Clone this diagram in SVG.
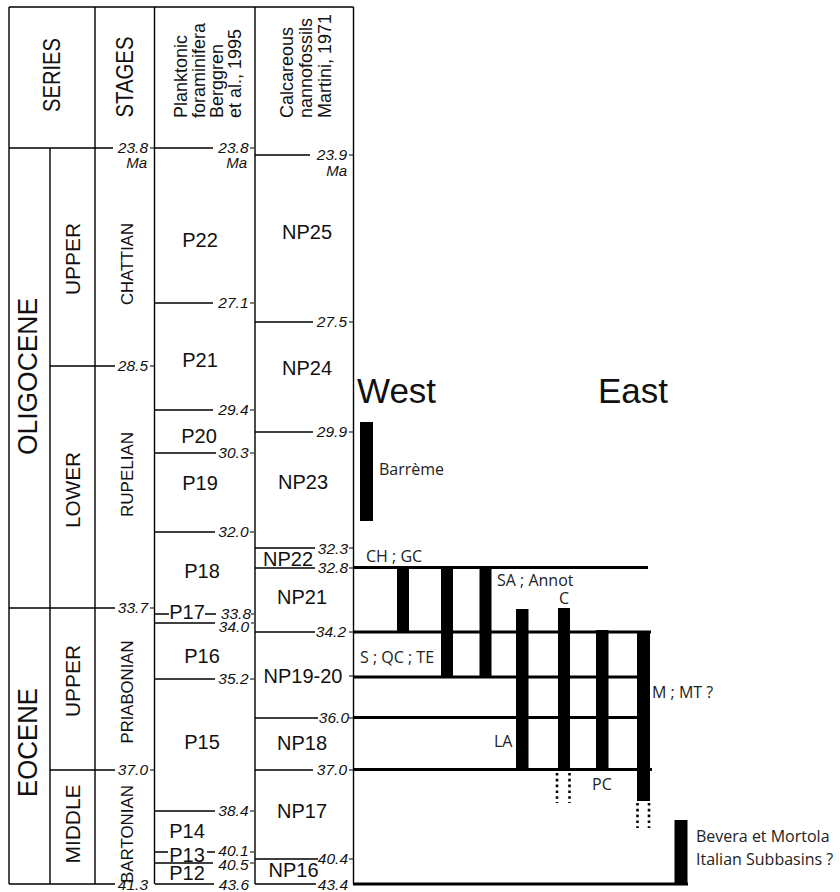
<svg xmlns="http://www.w3.org/2000/svg" width="840" height="892" viewBox="0 0 840 892">
<style>
.ln{stroke:#000;stroke-width:1.4;fill:none}
.tk{stroke:#000;stroke-width:1.2;fill:none}
.th{stroke:#000;stroke-width:3;fill:none}
.dt{stroke:#000;stroke-width:2.6;stroke-dasharray:2.6 3.2;fill:none}
.bar{fill:#000}
text{font-family:"Liberation Sans",Arial,Helvetica,sans-serif;fill:#111}
.hd{font-size:23px;text-anchor:middle}
.hs{font-size:18px}
.big{font-size:27px;text-anchor:middle}
.sub{font-size:21px;text-anchor:middle}
.stg{font-size:17px;text-anchor:middle}
.zn{font-size:20px;text-anchor:middle}
.num{font-size:15.5px;font-style:italic;text-anchor:end}
.ma{font-size:15px;font-style:italic;text-anchor:end}
.ttl{font-size:35px}
.lb{font-family:"Open Sans","Noto Sans",sans-serif;font-size:16px;fill:#222}
</style>

<g id="frame">
  <path class="ln" d="M9 7H353.5 M9 7V884 M95 7V884 M154.5 7V884 M255 7V884 M353.5 7V884 M50 148V884"/>
</g>

<g id="header">
  <text class="hd" transform="translate(60,75) rotate(-90)" textLength="74" lengthAdjust="spacingAndGlyphs">SERIES</text>
  <text class="hd" transform="translate(133,77) rotate(-90)" textLength="81" lengthAdjust="spacingAndGlyphs">STAGES</text>
  <text class="hs" transform="translate(187,118) rotate(-90)">Planktonic</text>
  <text class="hs" transform="translate(205,118) rotate(-90)">foraminifera</text>
  <text class="hs" transform="translate(223,118) rotate(-90)">Berggren</text>
  <text class="hs" transform="translate(241,118) rotate(-90)">et al., 1995</text>
  <text class="hs" transform="translate(293,118) rotate(-90)">Calcareous</text>
  <text class="hs" transform="translate(312,118) rotate(-90)">nannofossils</text>
  <text class="hs" transform="translate(331,118) rotate(-90)">Martini, 1971</text>
</g>

<g id="series">
  <text class="big" transform="translate(37,376.5) rotate(-90)" textLength="157" lengthAdjust="spacingAndGlyphs">OLIGOCENE</text>
  <text class="big" transform="translate(37,742.5) rotate(-90)" textLength="109" lengthAdjust="spacingAndGlyphs">EOCENE</text>
  <text class="sub" transform="translate(80,259) rotate(-90)" textLength="72" lengthAdjust="spacingAndGlyphs">UPPER</text>
  <text class="sub" transform="translate(80,490) rotate(-90)" textLength="76" lengthAdjust="spacingAndGlyphs">LOWER</text>
  <text class="sub" transform="translate(80,681) rotate(-90)" textLength="72" lengthAdjust="spacingAndGlyphs">UPPER</text>
  <text class="sub" transform="translate(80,824) rotate(-90)" textLength="79" lengthAdjust="spacingAndGlyphs">MIDDLE</text>
</g>

<g id="stages">
  <text class="stg" transform="translate(133,264) rotate(-90)" textLength="82" lengthAdjust="spacingAndGlyphs">CHATTIAN</text>
  <text class="stg" transform="translate(133,474.5) rotate(-90)" textLength="85" lengthAdjust="spacingAndGlyphs">RUPELIAN</text>
  <text class="stg" transform="translate(133,692) rotate(-90)" textLength="103" lengthAdjust="spacingAndGlyphs">PRIABONIAN</text>
  <text class="stg" transform="translate(133,834) rotate(-90)" textLength="98" lengthAdjust="spacingAndGlyphs">BARTONIAN</text>
  <path class="ln" d="M9 148H113 M50 366H115 M9 608H115 M50 770H115 M9 884H115"/>
  <path class="tk" d="M150 148H154 M150 366H154 M150 608H154 M150 770H154"/>
  <text class="num" x="148" y="153">23.8</text>
  <text class="ma" x="147" y="168">Ma</text>
  <text class="num" x="148" y="371">28.5</text>
  <text class="num" x="148" y="613">33.7</text>
  <text class="num" x="148" y="775">37.0</text>
  <text class="num" x="148" y="890">41.3</text>
</g>

<g id="planktonic">
  <path class="ln" d="M155 148H213 M155 303H213 M155 410H213 M155 453H216 M155 532H215 M155 614H169 M205 614H216 M155 623H215 M155 679H215 M155 811H215 M155 852H168 M207 852H215 M155 863H213 M155 884H214"/>
  <path class="tk" d="M250 148H254 M250 303H254 M250 410H254 M250 453H254 M250 532H254 M251 614H254 M251 623H254 M250 679H254 M250 811H254 M250 852H254 M250 863H254"/>
  <text class="num" x="248.5" y="153">23.8</text>
  <text class="ma" x="247" y="168">Ma</text>
  <text class="num" x="248.5" y="308">27.1</text>
  <text class="num" x="248.5" y="415">29.4</text>
  <text class="num" x="248.5" y="458">30.3</text>
  <text class="num" x="248.5" y="537">32.0</text>
  <text class="num" x="251" y="619">33.8</text>
  <text class="num" x="249" y="632">34.0</text>
  <text class="num" x="248.5" y="684">35.2</text>
  <text class="num" x="248.5" y="816">38.4</text>
  <text class="num" x="248.5" y="856">40.1</text>
  <text class="num" x="248.5" y="870">40.5</text>
  <text class="num" x="249" y="890">43.6</text>
  <text class="zn" x="200" y="247">P22</text>
  <text class="zn" x="200" y="367">P21</text>
  <text class="zn" x="199" y="443">P20</text>
  <text class="zn" x="200" y="490">P19</text>
  <text class="zn" x="202" y="578">P18</text>
  <text class="zn" x="187" y="619">P17</text>
  <text class="zn" x="202" y="663">P16</text>
  <text class="zn" x="202" y="749">P15</text>
  <text class="zn" x="187" y="838">P14</text>
  <text class="zn" x="187" y="862">P13</text>
  <text class="zn" x="187" y="880">P12</text>
</g>

<g id="nannofossils">
  <path class="ln" d="M255 155H310 M255 322H313 M255 432H313 M255 548H315 M255 568H315 M255 632H315 M255 718H318 M255 770H313 M255 859H318 M255 884H316"/>
  <path class="tk" d="M349 155H353 M349 322H353 M349 432H353 M349 548H353 M349 568H353 M349 632H353 M349 676H353 M349 718H353 M349 770H353 M349 859H353"/>
  <text class="num" x="347" y="160">23.9</text>
  <text class="ma" x="347" y="176">Ma</text>
  <text class="num" x="347" y="327">27.5</text>
  <text class="num" x="347" y="437">29.9</text>
  <text class="num" x="348" y="554">32.3</text>
  <text class="num" x="348" y="573">32.8</text>
  <text class="num" x="346" y="637">34.2</text>
  <text class="num" x="349" y="723">36.0</text>
  <text class="num" x="347" y="775">37.0</text>
  <text class="num" x="348" y="864">40.4</text>
  <text class="num" x="348" y="890">43.4</text>
  <text class="zn" x="307" y="239">NP25</text>
  <text class="zn" x="307" y="375">NP24</text>
  <text class="zn" x="303" y="489">NP23</text>
  <text class="zn" x="288" y="566">NP22</text>
  <text class="zn" x="302" y="604">NP21</text>
  <text class="zn" x="303" y="683">NP19-20</text>
  <text class="zn" x="302" y="750">NP18</text>
  <text class="zn" x="302" y="818">NP17</text>
  <text class="zn" x="293.5" y="877">NP16</text>
</g>

<g id="connectors">
  <path class="th" d="M353 567.5H648 M353 632H651 M353 677H650 M353 717.5H650 M353 769.5H652 M353 884H688"/>
  <path class="dt" d="M557 773V803 M569.5 773V803 M637.5 803V828 M649 803V828"/>
</g>

<g id="sections">
  <text class="ttl" x="357" y="403">West</text>
  <text class="ttl" x="598" y="403">East</text>
  <g id="barreme"><rect class="bar" x="360" y="422" width="13" height="99"/><text class="lb" x="379" y="475">Barrème</text></g>
  <g id="ch-gc"><rect class="bar" x="397" y="567" width="12" height="65"/><text class="lb" x="366" y="562">CH ; GC</text></g>
  <g id="s-qc-te"><rect class="bar" x="441" y="567" width="12" height="110"/><text class="lb" x="360" y="663">S ; QC ; TE</text></g>
  <g id="sa-annot"><rect class="bar" x="479.5" y="567" width="12" height="110"/><text class="lb" x="497" y="586">SA ; Annot</text></g>
  <g id="la"><rect class="bar" x="516" y="609" width="12.5" height="160"/><text class="lb" x="494" y="747">LA</text></g>
  <g id="c"><rect class="bar" x="558" y="608" width="12" height="161"/><text class="lb" x="559" y="604">C</text></g>
  <g id="pc"><rect class="bar" x="596" y="630" width="12.5" height="139"/><text class="lb" x="592" y="790">PC</text></g>
  <g id="m-mt"><rect class="bar" x="637" y="632" width="13" height="169"/><text class="lb" x="652" y="698">M ; MT ?</text></g>
  <g id="bevera"><rect class="bar" x="674.5" y="820" width="13" height="64"/><text class="lb" x="696" y="842">Bevera et Mortola</text><text class="lb" x="696" y="865">Italian Subbasins ?</text></g>
</g>
</svg>
